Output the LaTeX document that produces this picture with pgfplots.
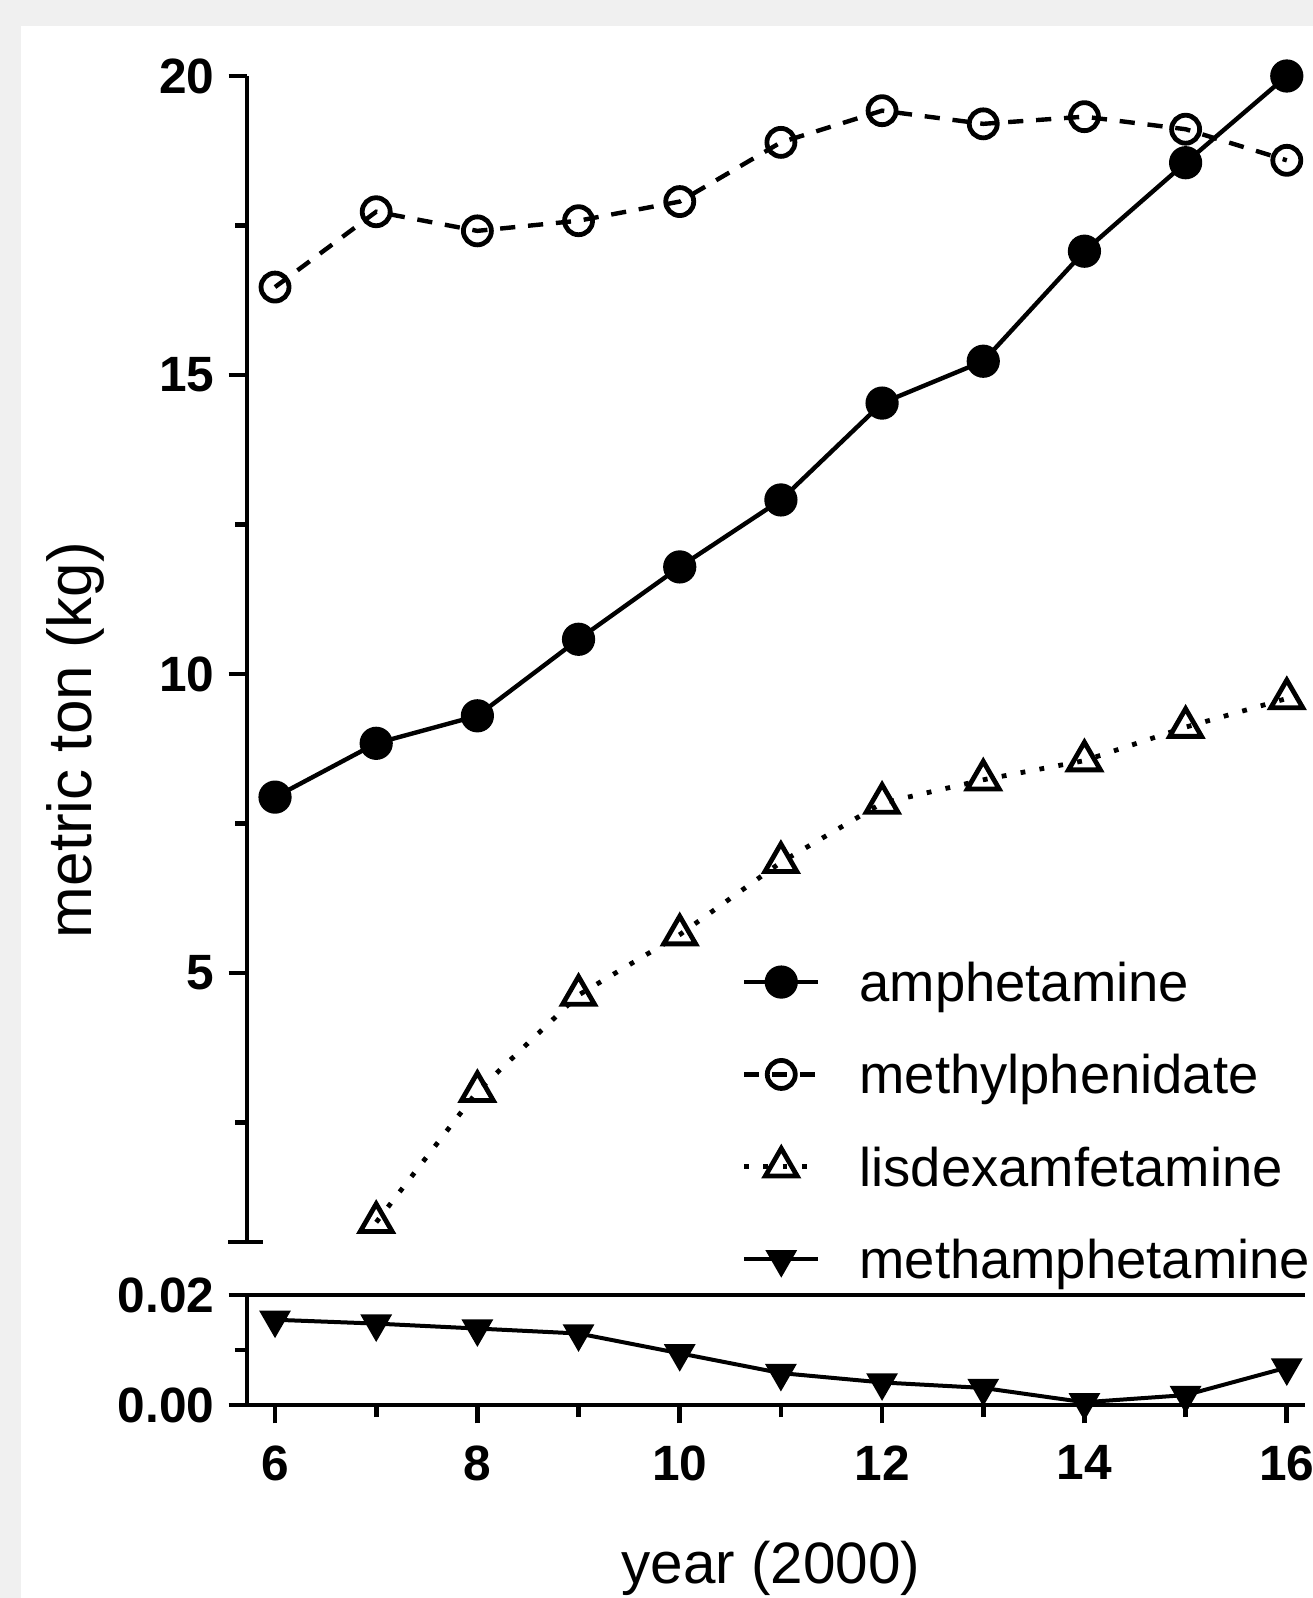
\documentclass[border=0pt]{standalone}
\usepackage{pgfplots}
\pgfplotsset{compat=1.18}
\usepackage{fontspec}
\setmainfont{Liberation Sans}
\definecolor{frame}{HTML}{F0F0F0}

\pgfplotsset{
  common/.style={
    scale only axis, width=264.5pt,
    xmin=5.723, xmax=16.18, clip=false,
    axis line style={line width=1.2pt, black},
    tick style={line width=1.2pt, black},
    tick align=outside,
    major tick length=4.6pt, minor tick length=3pt,
    ticklabel style={font=\fontsize{12.4}{14}\bfseries\selectfont},
    /pgf/number format/assume math mode=true,
  },
  amph/.style={black, line width=1.1pt, mark=*, mark size=3.6pt},
  mph/.style={black, line width=1.1pt, dash pattern=on 3.8pt off 3.2pt,
    mark=o, mark size=3.5pt, mark options={solid, line width=1.2pt}},
  lis/.style={black, line width=1.2pt, dash pattern=on 1.2pt off 3.6pt,
    mark=triangle, mark size=4.6pt, mark options={solid, line width=1.2pt}},
  meth/.style={black, line width=1pt, mark=triangle*, mark size=3.6pt,
    mark options={rotate=180}},
}

\begin{document}
\begin{tikzpicture}[x=1pt,y=1pt]
\fill[frame] (0,0) rectangle (328.25,399.5);
\fill[white] (5.25,0) rectangle (328.25,393);

% upper panel
\begin{axis}[common,
  at={(61.75pt,89pt)}, anchor=south west, height=291.5pt,
  ymin=0.5, ymax=20,
  ytick={5,10,15,20}, minor ytick={2.5,7.5,12.5,17.5},
  xtick=\empty,
  axis x line=none, axis y line*=left,
  legend style={draw=none, fill=none, at={(0.467,0.2454)}, anchor=north west,
    font=\fontsize{13.6}{16}\selectfont, row sep=10.4pt, inner sep=0pt,
    nodes={inner sep=0pt},
    /tikz/every odd column/.append style={column sep=9.7pt}},
  legend cell align=left,
  legend image code/.code={\draw[mark repeat=2, mark phase=2]
    plot coordinates {(0pt,0pt) (9.25pt,0pt) (18.5pt,0pt)};},
]
\addplot[amph] coordinates {
  (6,7.94) (7,8.84) (8,9.30) (9,10.58) (10,11.79) (11,12.91)
  (12,14.53) (13,15.23) (14,17.07) (15,18.55) (16,20.0)};
\addlegendentry{\strut amphetamine}
\addplot[mph] coordinates {
  (6,16.47) (7,17.73) (8,17.41) (9,17.58) (10,17.90) (11,18.89)
  (12,19.42) (13,19.20) (14,19.32) (15,19.11) (16,18.59)};
\addlegendentry{\strut methylphenidate}
\addplot[lis] coordinates {
  (7,0.83) (8,3.02) (9,4.63) (10,5.64) (11,6.85)
  (12,7.84) (13,8.23) (14,8.55) (15,9.11) (16,9.59)};
\addlegendentry{\strut lisdexamfetamine}
\addlegendimage{meth}
\addlegendentry{\strut methamphetamine}
\draw[line width=1.2pt] ([xshift=-4.75pt]rel axis cs:0,0) -- ([xshift=4pt]rel axis cs:0,0);
\end{axis}

% lower panel
\begin{axis}[common,
  at={(61.75pt,48.25pt)}, anchor=south west, height=27.5pt,
  ymin=0, ymax=0.02,
  ytick={0,0.02}, minor ytick={0.01},
  xtick={6,8,10,12,14,16}, minor xtick={7,9,11,13,15},
  xtick pos=left,
  axis x line*=box, axis y line*=left,
  scaled y ticks=false,
  yticklabel style={/pgf/number format/.cd, fixed, fixed zerofill, precision=2},
  xticklabel style={yshift=-2pt},
]
\addplot[meth] coordinates {
  (6,0.0155) (7,0.0148) (8,0.0139) (9,0.0130) (10,0.0094) (11,0.0058)
  (12,0.0041) (13,0.0031) (14,0.0005) (15,0.0018) (16,0.0068)};
\end{axis}

\node[rotate=90, font=\fontsize{15.5}{18}\selectfont] at (18.75,214.5) {metric ton (kg)};
\node[inner sep=0pt, font=\fontsize{14.6}{17}\selectfont] at (192.75,7.5) {year (2000)};

\pgfresetboundingbox
\useasboundingbox (0,0) rectangle (328.25,399.5);
\end{tikzpicture}
\end{document}
